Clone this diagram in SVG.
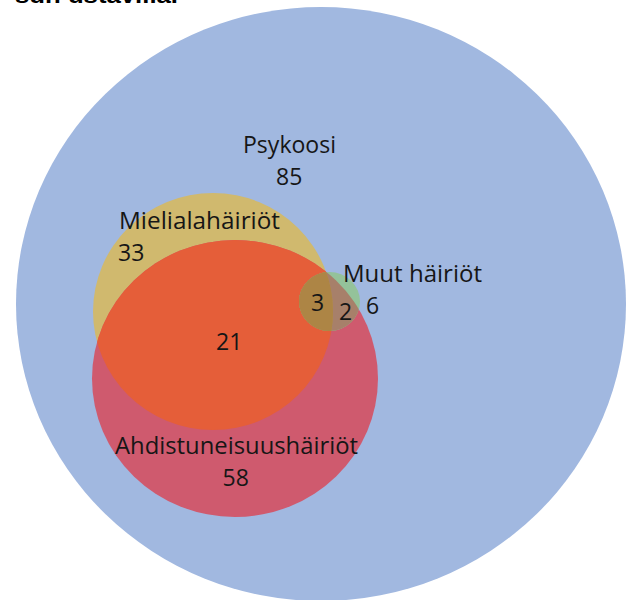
<svg xmlns="http://www.w3.org/2000/svg" width="629" height="600" viewBox="0 0 629 600">
<style>
.lbl{font-family:"Open Sans","Noto Sans","Liberation Sans",sans-serif;font-size:23px;fill:#161616;}
.top{font-family:"Liberation Sans",Arial,sans-serif;font-size:22px;font-weight:bold;fill:#000;}
</style>
<defs>
<clipPath id="cY"><ellipse cx="213" cy="311.5" rx="120" ry="118.5"/></clipPath>
<clipPath id="cR"><ellipse cx="235" cy="378.5" rx="143" ry="138.5"/></clipPath>
<clipPath id="cG"><ellipse cx="329.5" cy="301.5" rx="30.5" ry="29.5"/></clipPath>
</defs>
<rect width="629" height="600" fill="#ffffff"/>
<text class="top" x="15" y="3" textLength="163" lengthAdjust="spacingAndGlyphs">sun ustavilla.</text>
<g id="psykoosi">
<ellipse cx="321" cy="304" rx="305" ry="297" fill="#a1b8e0"/>
</g>
<g id="mielialahairiot">
<ellipse cx="213" cy="311.5" rx="120" ry="118.5" fill="#d0b96e"/>
</g>
<g id="ahdistuneisuushairiot">
<ellipse cx="235" cy="378.5" rx="143" ry="138.5" fill="#cf5a6e"/>
</g>
<g id="overlap-mieliala-ahdistus" clip-path="url(#cR)">
<ellipse cx="213" cy="311.5" rx="120" ry="118.5" fill="#e55e39"/>
</g>
<g id="muut-hairiot">
<ellipse cx="329.5" cy="301.5" rx="30.5" ry="29.5" fill="#94c29a"/>
<ellipse cx="235" cy="378.5" rx="143" ry="138.5" fill="#a7806a" clip-path="url(#cG)"/>
<ellipse cx="213" cy="311.5" rx="120" ry="118.5" fill="#b38f4e" clip-path="url(#cG)"/>
<g clip-path="url(#cR)">
<ellipse cx="213" cy="311.5" rx="120" ry="118.5" fill="#ad8545" clip-path="url(#cG)"/>
</g>
</g>
<g id="labels">
<text class="lbl" x="243" y="153" textLength="93" lengthAdjust="spacingAndGlyphs">Psykoosi</text>
<text class="lbl" x="276" y="184.5">85</text>
<text class="lbl" x="119" y="229" textLength="161" lengthAdjust="spacingAndGlyphs">Mielialahäiriöt</text>
<text class="lbl" x="118" y="261">33</text>
<text class="lbl" x="343" y="282" textLength="139" lengthAdjust="spacingAndGlyphs">Muut häiriöt</text>
<text class="lbl" x="366" y="314">6</text>
<text class="lbl" x="311" y="311">3</text>
<text class="lbl" x="339" y="319.5">2</text>
<text class="lbl" x="216" y="350">21</text>
<text class="lbl" x="115" y="454" textLength="243" lengthAdjust="spacingAndGlyphs">Ahdistuneisuushäiriöt</text>
<text class="lbl" x="222.5" y="486">58</text>
</g>
</svg>
